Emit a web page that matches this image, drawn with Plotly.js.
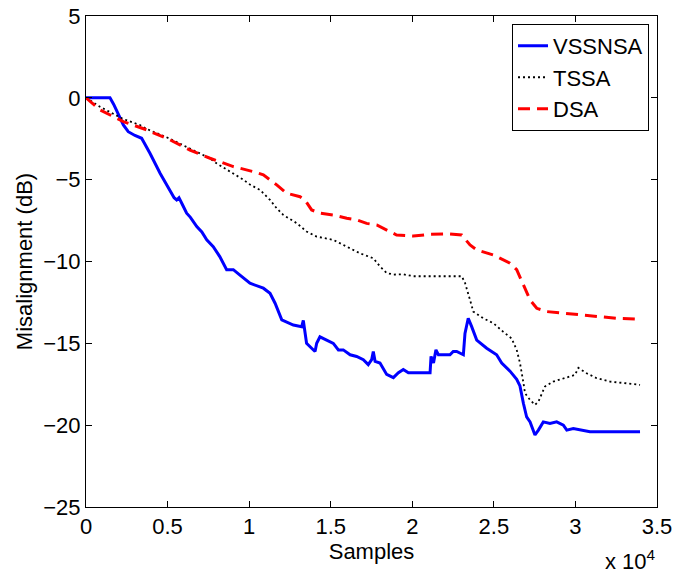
<!DOCTYPE html>
<html>
<head>
<meta charset="utf-8">
<script src="https://cdn.plot.ly/plotly-3.0.1.min.js"></script>
<style>
  html, body { margin: 0; padding: 0; background: #fff; }
  #chart { width: 675px; height: 576px; }
</style>
</head>
<body>
<div id="chart"></div>
<script>
// Misalignment learning curves (dB) versus sample index
const vssnsaX = [0, 1470, 1700, 2000, 2290, 2590, 3000, 3410, 3920, 4540, 5250, 5400, 5560, 5700, 5900, 6170, 6400, 6790, 7100, 7400, 7800, 8200, 8620, 9030, 9400, 9750, 10050, 10870, 11280, 11590, 12000, 12710, 13220, 13320, 13520, 13830, 14040, 14140, 14340, 14750, 15160, 15470, 15770, 16190, 16590, 17000, 17300, 17510, 17610, 17720, 18020, 18430, 18840, 19150, 19450, 19760, 21090, 21150, 21300, 21450, 21600, 22310, 22510, 22720, 23130, 23230, 23430, 23640, 23950, 24560, 25170, 25480, 25990, 26400, 26600, 26810, 27010, 27220, 27520, 27730, 28030, 28440, 28850, 29260, 29470, 29870, 30890, 33960];
const vssnsaY = [0, 0, -0.4, -1.1, -1.66, -2.07, -2.3, -2.47, -3.39, -4.61, -5.83, -6.1, -6.24, -6.1, -6.5, -7.05, -7.3, -7.87, -8.2, -8.68, -9.1, -9.7, -10.5, -10.5, -10.8, -11.1, -11.33, -11.63, -11.94, -12.55, -13.57, -13.88, -13.98, -13.6, -15.0, -15.3, -15.5, -15.0, -14.6, -14.8, -15.0, -15.4, -15.4, -15.7, -15.8, -16.0, -16.3, -16.0, -15.5, -16.1, -16.2, -16.9, -17.1, -16.8, -16.6, -16.8, -16.8, -15.8, -16.2, -15.4, -15.7, -15.7, -15.5, -15.5, -15.7, -14.4, -13.47, -13.98, -14.8, -15.3, -15.7, -16.2, -16.7, -17.2, -17.6, -18.66, -19.5, -19.8, -20.6, -20.3, -19.8, -19.9, -19.8, -20.0, -20.3, -20.2, -20.4, -20.4];

const tssaX = [0, 860, 2290, 3310, 3720, 5150, 6370, 7600, 8000, 9030, 9640, 10050, 10670, 11280, 11690, 12100, 12920, 13520, 14140, 15160, 15980, 16800, 17610, 18020, 18430, 18840, 19450, 20060, 23030, 23230, 23540, 23740, 24350, 24970, 25580, 26090, 26400, 26600, 26810, 26910, 27220, 27520, 27730, 28130, 28640, 29260, 29670, 29970, 30180, 30690, 31300, 32120, 33140, 33960];
const tssaY = [0, -0.55, -1.3, -1.66, -1.9, -2.5, -3.1, -3.7, -4.0, -4.6, -5.0, -5.3, -5.63, -6.24, -6.75, -7.16, -7.66, -8.17, -8.48, -8.68, -9.09, -9.5, -9.8, -10.3, -10.7, -10.8, -10.78, -10.9, -10.9, -11.3, -12.35, -13.06, -13.47, -13.77, -14.3, -14.7, -15.4, -16.2, -17.4, -18.05, -18.46, -18.76, -18.56, -17.64, -17.34, -17.13, -17.03, -16.93, -16.5, -16.83, -17.13, -17.34, -17.44, -17.54];

const dsaX = [0, 860, 2290, 3720, 5150, 6370, 7600, 9030, 10260, 10870, 11690, 12300, 13120, 13420, 13830, 14340, 15160, 15980, 16590, 17200, 17820, 18430, 19040, 20060, 21090, 22310, 23030, 23540, 23950, 24970, 25990, 26400, 26810, 27220, 27630, 28240, 29260, 30280, 31300, 32530, 33960];
const dsaY = [0, -0.74, -1.45, -1.96, -2.57, -3.19, -3.69, -4.2, -4.51, -4.71, -5.32, -5.83, -6.04, -6.24, -6.85, -7.05, -7.16, -7.36, -7.46, -7.67, -7.77, -8.07, -8.38, -8.44, -8.34, -8.32, -8.38, -8.99, -9.29, -9.6, -10.1, -10.5, -11.43, -12.35, -12.86, -13.06, -13.16, -13.27, -13.37, -13.47, -13.53];

const xTickVals = [0, 5000, 10000, 15000, 20000, 25000, 30000, 35000];
const xTickText = ['0', '0.5', '1', '1.5', '2', '2.5', '3', '3.5'];
const yTickVals = [5, 0, -5, -10, -15, -20, -25];

const FONT = 'Liberation Sans, Arial, Helvetica, sans-serif';
const FS = 22;

const traces = [
  { x: vssnsaX, y: vssnsaY, name: 'VSSNSA', type: 'scatter', mode: 'lines',
    line: { color: 'rgb(0,0,255)', width: 3 } },
  { x: tssaX, y: tssaY, name: 'TSSA', type: 'scatter', mode: 'lines',
    line: { color: 'rgb(0,0,0)', width: 1.8, dash: '2px,3px' } },
  { x: dsaX, y: dsaY, name: 'DSA', type: 'scatter', mode: 'lines',
    line: { color: 'rgb(255,0,0)', width: 3, dash: '12px,7px' } }
];

const axisCommon = {
  showgrid: false, zeroline: false,
  showline: true, linecolor: '#000', linewidth: 1,
  mirror: 'ticks', ticks: 'inside', ticklen: 6, tickcolor: '#000', tickwidth: 1,
  tickfont: { family: FONT, size: FS, color: '#000' }
};

const layout = {
  width: 675, height: 576,
  margin: { l: 86, r: 18, t: 16, b: 69 },
  paper_bgcolor: '#fff', plot_bgcolor: '#fff',
  font: { family: FONT, size: FS, color: '#000' },
  showlegend: true,
  xaxis: Object.assign({}, axisCommon, {
    range: [0, 35000], tickmode: 'array', tickvals: xTickVals, ticktext: xTickText,
    title: { text: 'Samples', font: { family: FONT, size: FS }, standoff: 0 }
  }),
  yaxis: Object.assign({}, axisCommon, {
    range: [-25, 5], tickmode: 'array', tickvals: yTickVals,
    title: { text: 'Misalignment (dB)', font: { family: FONT, size: FS }, standoff: 4 }
  }),
  legend: {
    x: 0.986, y: 0.984, xanchor: 'right', yanchor: 'top',
    bgcolor: '#fff', bordercolor: '#000', borderwidth: 1,
    font: { family: FONT, size: FS, color: '#000' },
    tracegroupgap: 0
  },
  annotations: [{
    xref: 'paper', yref: 'paper', x: 0.905, y: -0.108,
    xanchor: 'left', yanchor: 'middle', showarrow: false,
    text: 'x 10<sup>4</sup>', font: { family: FONT, size: FS, color: '#000' }
  }]
};

Plotly.newPlot('chart', traces, layout, { displayModeBar: false, staticPlot: true });
</script>
</body>
</html>
